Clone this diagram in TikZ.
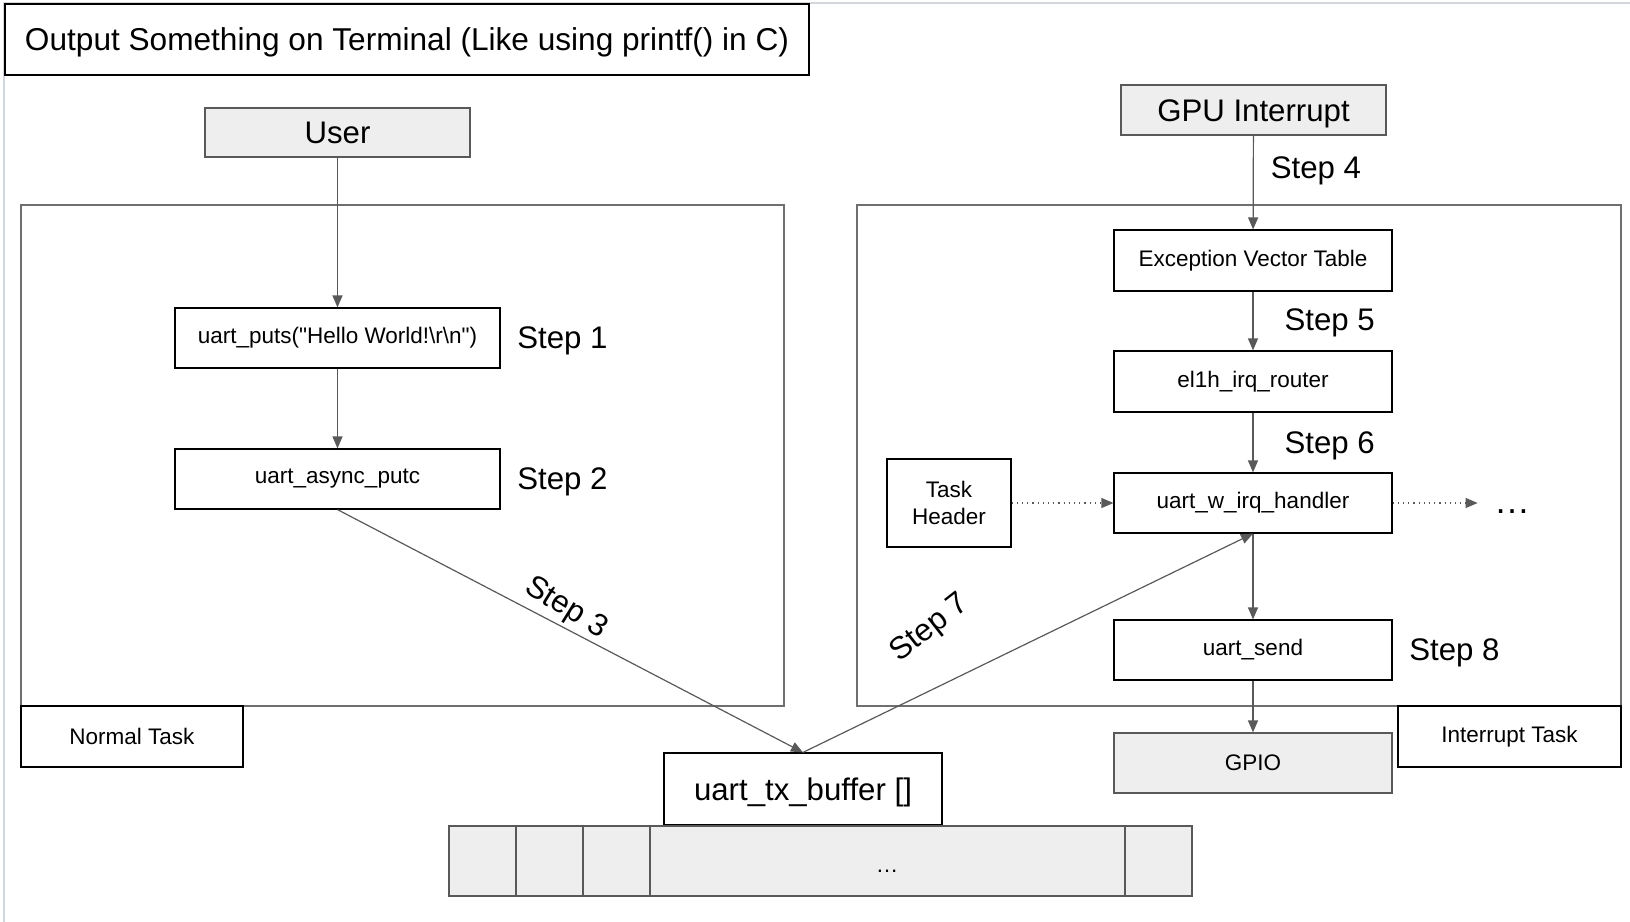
\documentclass[tikz,border=0pt]{standalone}
\usepackage{fontspec}
\setmainfont{Liberation Sans}[Ligatures=TeXOff]
\usetikzlibrary{arrows.meta, positioning}
\definecolor{linegray}{HTML}{595959}
\definecolor{boxgray}{HTML}{EEEEEE}
\definecolor{panegray}{HTML}{6F6F6F}
\definecolor{pagegray}{HTML}{D3D6DB}
\newcommand{\captext}[2]{\raisebox{-#1}[0pt][0pt]{#2}}

\begin{document}
\begin{tikzpicture}[
    x=0.5pt, y=-0.5pt,
    % 1. Base style for every box
    base/.style={
        draw=black, line width=0.6pt, align=center, inner sep=0pt,
        font=\fontsize{11.25}{13.5}\selectfont
    },
    % 2. Box variants
    codebox/.style={base, minimum width=139pt, minimum height=30pt},
    greybox/.style={base, draw=linegray, fill=boxgray},
    tagbox/.style={base, minimum width=111pt, minimum height=30.5pt},
    pane/.style={draw=panegray, line width=0.6pt},
    cell/.style={draw=linegray, fill=boxgray, line width=0.6pt},
    big/.style={font=\fontsize{15.6}{18}\selectfont},
    % 3. Connectors
    arrow/.style={-{Triangle[length=6pt, width=5pt]}, draw=linegray, line width=0.6pt},
    dotarrow/.style={arrow, dotted},
    % 4. Step labels
    steplabel/.style={big, anchor=west, inner sep=0pt}
]
    \useasboundingbox (0,0) rectangle (1630,922);
    \draw[pagegray, line width=0.6pt] (4,922) -- (4,3) -- (1630,3);

    % --- TITLE ---
    \node[base, font=\fontsize{15.8}{18}\selectfont, line width=0.9pt, minimum width=402pt, minimum height=35.5pt] (title) at (407,39.5)
        {\captext{5.6pt}{Output Something on Terminal (Like using printf() in C)}};

    % --- NORMAL TASK ---
    \draw[pane] (21,205) rectangle (784,706);
    \node[greybox, big, minimum width=132.5pt, minimum height=24.5pt] (user) at (337.5,132.5) {\captext{5.6pt}{User}};
    \node[codebox, minimum width=162.5pt] (puts) at (337.5,338) {uart\_puts("Hello World!\textbackslash r\textbackslash n")};
    \node[codebox, minimum width=162.5pt] (putc) at (337.5,479) {uart\_async\_putc};
    \node[tagbox] (normal) at (132,736.5) {Normal Task};
    \node[steplabel] (step1) at (517,341) {Step 1};
    \node[steplabel] (step2) at (517,482) {Step 2};

    \draw[arrow] (user) -- (puts);
    \draw[arrow] (puts) -- (putc);

    % --- BUFFER ---
    \node[base, big, minimum width=139pt, minimum height=36pt] (txbuf) at (803,789) {\captext{5.6pt}{uart\_tx\_buffer []}};
    \foreach \a/\b in {449/516, 516/583, 583/650, 650/1125, 1125/1192}
        \draw[cell] (\a,826) rectangle (\b,896);
    \node[inner sep=0pt, font=\fontsize{11.25}{13.5}\selectfont] (bufdots) at (887,871) {\ldots};

    \draw[arrow] (putc.south) -- node[pos=0.49, yshift=10pt, rotate=-32, big] {Step 3} (txbuf.north);

    % --- INTERRUPT TASK ---
    \draw[pane] (857,205) rectangle (1621,706);
    \node[greybox, big, minimum width=132.5pt, minimum height=25pt] (gpu) at (1253.5,110) {\captext{5.6pt}{GPU Interrupt}};
    \node[codebox, minimum height=30.5pt] (evt) at (1253,260.5) {Exception Vector Table};
    \node[codebox, minimum height=30.5pt] (router) at (1253,381.5) {el1h\_irq\_router};
    \node[codebox] (handler) at (1253,503) {uart\_w\_irq\_handler};
    \node[base, minimum width=62pt, minimum height=44pt] (header) at (949,503) {Task\\Header};
    \node[inner sep=0pt, font=\fontsize{18}{20}\selectfont] (hdots) at (1512,512) {\ldots};
    \node[codebox] (send) at (1253,650) {uart\_send};
    \node[greybox, minimum width=139pt, minimum height=30pt] (gpio) at (1253,763) {GPIO};
    \node[tagbox, minimum width=111.5pt] (irqtask) at (1509.5,736.5) {Interrupt Task};
    \node[steplabel] (step8) at (1409,653) {Step 8};

    \draw[arrow] (gpu) -- node[steplabel, pos=0.38, xshift=8.5pt] {Step 4} (evt);
    \draw[arrow] (evt) -- node[steplabel, pos=0.53, xshift=15.5pt] {Step 5} (router);
    \draw[arrow] (router) -- node[steplabel, pos=0.55, xshift=15.5pt] {Step 6} (handler);
    \draw[arrow] (handler) -- (send);
    \draw[arrow] (send) -- (gpio);
    \draw[dotarrow] (header) -- (handler);
    \draw[dotarrow, shorten >=8pt] (handler.east) -- (hdots.west |- handler.east);
    \draw[arrow] (txbuf.north) -- node[pos=0.283, yshift=31pt, rotate=38, big] {Step 7} (handler.south);

\end{tikzpicture}
\end{document}
